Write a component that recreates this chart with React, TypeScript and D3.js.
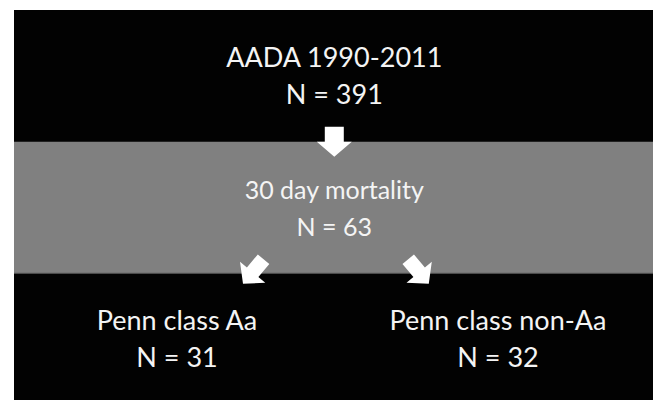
import React, { useEffect, useRef } from 'react'
import * as d3 from 'd3'

// flowchart content
const nodeTitles = ['AADA 1990-2011', '30 day mortality', 'Penn class Aa', 'Penn class non-Aa']
const nodeCounts = [391, 63, 31, 32]
const nodeLevels = [0, 1, 2, 2]
const nodeColumns = [0.49, 0.49, 0, 1]
// arrows: [from, to]
const links = [
  [0, 1],
  [1, 2],
  [1, 3],
]

const W = 653
const H = 400

const App = () => {
  const svgRef = useRef<SVGSVGElement>(null)

  useEffect(() => {
    const svg = d3.select(svgRef.current)
    svg.selectAll('*').remove()

    const x = d3.scaleLinear().domain([0, 1]).range([177, 498])
    // baseline of the first text line for each level
    const y = d3.scaleLinear().domain([0, 2]).range([67, 330])
    const lineGap = 37

    // background
    svg.append('rect').attr('x', 14).attr('y', 10).attr('width', W - 14).attr('height', H - 10).attr('fill', '#020202')

    // grey band behind the middle level
    const bandTop = y(0.5) + 9
    const bandBottom = y(1.5) + 9
    svg
      .append('rect')
      .attr('x', 14)
      .attr('y', bandTop)
      .attr('width', W - 14)
      .attr('height', bandBottom - bandTop)
      .attr('fill', '#808080')
    svg
      .append('line')
      .attr('x1', 14)
      .attr('x2', W)
      .attr('y1', bandBottom)
      .attr('y2', bandBottom)
      .attr('stroke', '#5a5a5a')
      .attr('stroke-width', 1)

    // arrows
    const arrowPath = (sw: number, hw: number, sl: number, hl: number) =>
      d3.line()([
        [-sw, -sl],
        [sw, -sl],
        [sw, 0],
        [hw, 0],
        [0, hl],
        [-hw, 0],
        [-sw, 0],
      ]) + 'Z'

    links.forEach(([a, b]) => {
      const fx = x(nodeColumns[a])
      const tx = x(nodeColumns[b])
      let cx, cy, angle, d
      if (fx === tx) {
        cx = fx
        cy = bandTop
        angle = 0
        d = arrowPath(9.5, 17.5, 15, 15)
      } else {
        const dir = tx < fx ? -1 : 1
        cx = (fx + tx) / 2 + dir * 3
        cy = bandBottom - 1
        angle = -dir * 40
        d = arrowPath(7.5, 16.5, 17, 15)
      }
      svg
        .append('path')
        .attr('d', d)
        .attr('transform', `translate(${cx},${cy}) rotate(${angle})`)
        .attr('fill', '#ffffff')
    })

    // labels
    const g = svg.append('g').attr('font-family', 'Lato, sans-serif').attr('fill', '#f4f4f4').attr('text-anchor', 'middle')
    nodeTitles.forEach((t, i) => {
      const cx = x(nodeColumns[i])
      const by = y(nodeLevels[i])
      const fs = nodeLevels[i] === 1 ? 25 : 27
      g.append('text').attr('x', cx).attr('y', by).attr('font-size', fs).text(t)
      g.append('text').attr('x', cx).attr('y', by + lineGap).attr('font-size', fs).text(`N = ${nodeCounts[i]}`)
    })
  }, [])

  return <svg ref={svgRef} width={W} height={H} style={{ position: 'absolute', left: 0, top: 0 }}></svg>
}

export default App
